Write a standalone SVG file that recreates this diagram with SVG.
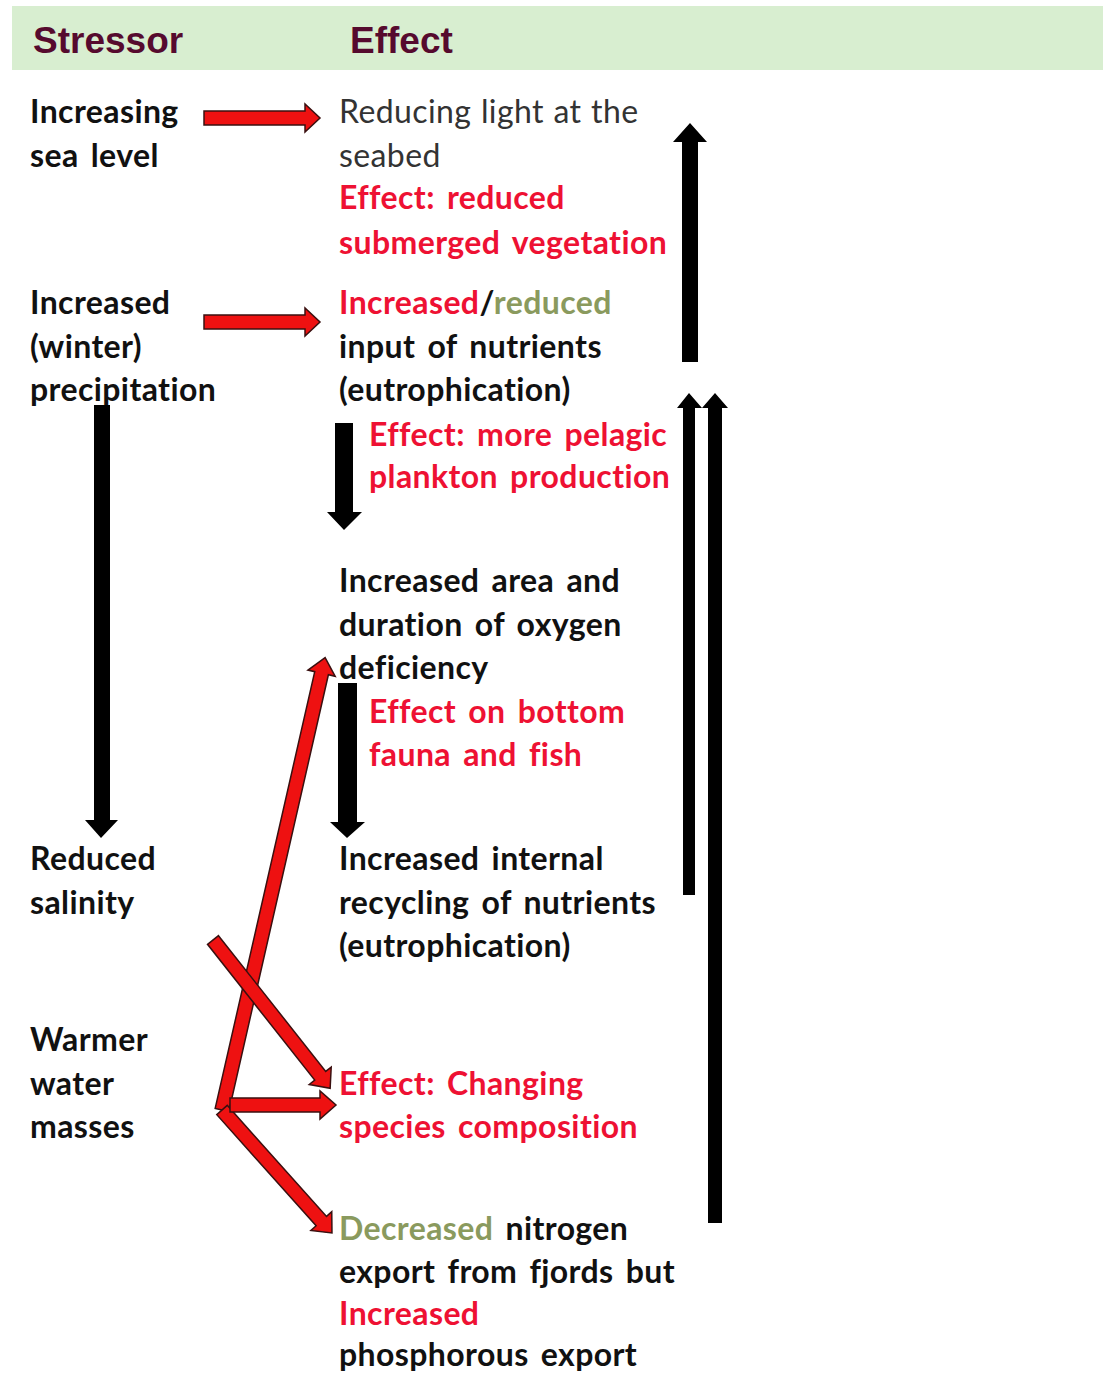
<svg xmlns="http://www.w3.org/2000/svg" width="1106" height="1375" viewBox="0 0 1106 1375">
<defs>
<style>
.hd{font-family:"Liberation Sans",Arial,sans-serif;font-weight:bold;font-size:37px;fill:#560a2e}
.t{font-family:Lato,"Open Sans",sans-serif;font-weight:bold;font-size:32px;fill:#111;letter-spacing:0.4px;word-spacing:4px;font-variant-ligatures:none}
.r{fill:#ee1133}
.g{fill:#8a9a5e}
.reg{font-weight:normal;fill:#333;word-spacing:1px}
.ra{fill:#ee1111;stroke:#3a1010;stroke-width:1.5;stroke-linejoin:miter}
.ba{fill:#000}
</style>
</defs>
<rect width="1106" height="1375" fill="#fff"/>
<g id="header">
<rect x="12" y="6" width="1091" height="64" fill="#d8eed0"/>
<text class="hd" x="33" y="53">Stressor</text>
<text class="hd" x="350" y="53">Effect</text>
</g>
<g id="stressor-sea-level"><text class="t" x="30" y="123">Increasing</text><text class="t" x="30" y="167">sea level</text></g>
<g id="stressor-precipitation"><text class="t" x="30" y="314">Increased</text><text class="t" x="30" y="358">(winter)</text><text class="t" x="30" y="401">precipitation</text></g>
<g id="stressor-salinity"><text class="t" x="30" y="870">Reduced</text><text class="t" x="30" y="914">salinity</text></g>
<g id="stressor-warmer"><text class="t" x="30" y="1051">Warmer</text><text class="t" x="30" y="1095">water</text><text class="t" x="30" y="1138">masses</text></g>
<g id="effect-light"><text class="t reg" x="339" y="123">Reducing light at the</text><text class="t reg" x="339" y="167">seabed</text><text class="t r" x="339" y="209">Effect: reduced</text><text class="t r" x="339" y="254">submerged vegetation</text></g>
<g id="effect-nutrients"><text class="t" x="339" y="314"><tspan class="r">Increased</tspan>/<tspan class="g">reduced</tspan></text><text class="t" x="339" y="358">input of nutrients</text><text class="t" x="339" y="401">(eutrophication)</text></g>
<g id="effect-plankton"><text class="t r" x="369" y="446">Effect: more pelagic</text><text class="t r" x="369" y="488">plankton production</text></g>
<g id="effect-oxygen"><text class="t" x="339" y="592">Increased area and</text><text class="t" x="339" y="636">duration of oxygen</text><text class="t" x="339" y="679">deficiency</text></g>
<g id="effect-fauna"><text class="t r" x="369" y="723">Effect on bottom</text><text class="t r" x="369" y="766">fauna and fish</text></g>
<g id="effect-recycling"><text class="t" x="339" y="870">Increased internal</text><text class="t" x="339" y="914">recycling of nutrients</text><text class="t" x="339" y="957">(eutrophication)</text></g>
<g id="effect-species"><text class="t r" x="339" y="1095">Effect: Changing</text><text class="t r" x="339" y="1138">species composition</text></g>
<g id="effect-export"><text class="t" x="339" y="1240"><tspan class="g">Decreased</tspan> nitrogen</text><text class="t" x="339" y="1283">export from fjords but</text><text class="t r" x="339" y="1325">Increased</text><text class="t" x="339" y="1366">phosphorous export</text></g>
<g id="connectors">
<polygon class="ra" points="204,111 305,111 305,104 320,118 305,132 305,125 204,125"/>
<polygon class="ra" points="204,315 305,315 305,308 320,322 305,336 305,329 204,329"/>
<polygon class="ba" points="682,362 682,142 673,142 690,123 707,142 698,142 698,362"/>
<polygon class="ba" points="683,895 683,408 677,408 689,393 702,408 695,408 695,895"/>
<polygon class="ba" points="708,1223 708,408 702,408 715,393 728,408 722,408 722,1223"/>
<polygon class="ba" points="94,405 110,405 110,820 118,820 101,838 85,820 94,820"/>
<polygon class="ba" points="335,423 353,423 353,512 362,512 344,530 327,512 335,512"/>
<polygon class="ba" points="338,683 357,683 357,822 365,822 347,838 330,822 338,822"/>
<g transform="translate(222,1110) rotate(-77.16)"><polygon class="ra" points="0,-7 448,-7 448,-14 464,0 448,14 448,7 0,7"/></g>
<g transform="translate(222,1110) rotate(48.2)"><polygon class="ra" points="0,-7 149,-7 149,-14 165,0 149,14 149,7 0,7"/></g>
<g transform="translate(230,1105)"><polygon class="ra" points="0,-7 90,-7 90,-14 106,0 90,14 90,7 0,7"/></g>
<g transform="translate(213,940) rotate(51.7)"><polygon class="ra" points="0,-7 173,-7 173,-14 189,0 173,14 173,7 0,7"/></g>
</g>
</svg>
